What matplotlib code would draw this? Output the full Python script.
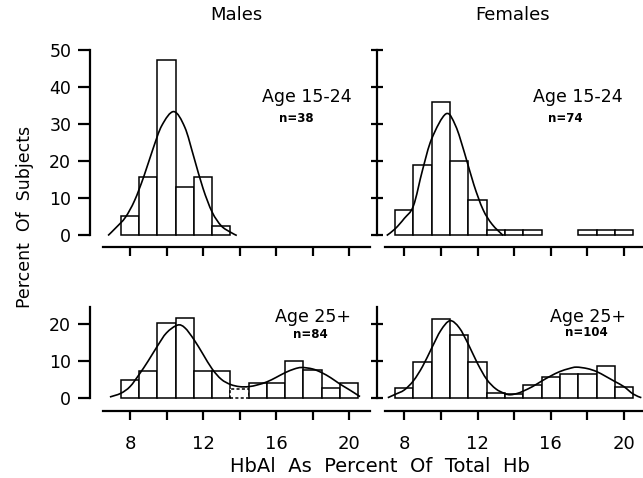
import numpy as np
import matplotlib
matplotlib.use("Agg")
import matplotlib.pyplot as plt
from matplotlib.path import Path
from matplotlib.patches import PathPatch

plt.rcParams['font.family'] = ['DejaVu Sans']

# ---------------- data ----------------
panel_titles = ["Males", "Females"]
age_labels = ["Age 15-24", "Age 15-24", "Age 25+", "Age 25+"]
n_labels = ["n=38", "n=74", "n=84", "n=104"]

# Males 15-24
m1_bins = [8, 9, 10, 11, 12, 13]
m1_pct = [5.3, 15.8, 47.4, 13.2, 15.8, 2.6]
m1_curve_x = [6.8, 7.25, 7.75, 8.25, 8.75, 9.25, 9.75, 10.4, 11.0, 11.5, 12.0, 12.5, 13.0, 13.5, 13.85]
m1_curve_y = [0.0, 2.2, 4.9, 9.4, 15.8, 23.2, 29.7, 33.4, 29.2, 21.1, 12.7, 6.3, 2.6, 0.9, 0.0]

# Females 15-24
f1_bins = [8, 9, 10, 11, 12, 13, 14, 15, 18, 19, 20]
f1_pct = [6.8, 18.9, 36.0, 20.0, 9.5, 1.4, 1.4, 1.4, 1.4, 1.4, 1.4]
f1_curve_x = [7.04, 7.5, 8.0, 8.5, 9.0, 9.5, 10.28, 10.8, 11.3, 11.8, 12.3, 12.8, 13.4]
f1_curve_y = [0.0, 1.8, 4.6, 8.0, 17.7, 26.1, 32.8, 29.6, 22.1, 13.7, 7.0, 3.0, 0.0]

# Males 25+
m2_bins = [8, 9, 10, 11, 12, 13, 14, 15, 16, 17, 18, 19, 20]
m2_pct = [4.8, 7.2, 20.4, 21.5, 7.3, 7.3, 2.4, 4.1, 4.1, 10.0, 7.5, 2.5, 3.9]
m2_curve_x = [6.9, 7.5, 8.0, 8.5, 9.0, 9.5, 10.0, 10.6, 11.0, 11.5, 12.0, 12.5, 13.0, 13.5,
              14.0, 14.5, 15.0, 15.5, 16.0, 16.5, 17.0, 17.4, 18.0, 18.5, 19.0, 19.5, 20.0, 20.6]
m2_curve_y = [0.2, 1.2, 3.0, 6.3, 10.0, 14.0, 17.6, 19.7, 19.0, 15.8, 11.8, 7.8, 5.0, 3.6,
              3.0, 3.0, 3.5, 4.3, 5.5, 6.8, 7.8, 8.2, 7.8, 6.8, 5.4, 3.7, 2.2, 0.3]

# Females 25+
f2_bins = [8, 9, 10, 11, 12, 13, 14, 15, 16, 17, 18, 19, 20]
f2_pct = [2.7, 9.7, 21.4, 17.1, 9.6, 1.4, 0.9, 3.4, 5.7, 6.3, 6.3, 8.6, 2.9]
f2_curve_x = [7.1, 7.5, 8.0, 8.5, 9.0, 9.5, 10.0, 10.5, 11.0, 11.5, 12.0, 12.5, 13.0, 13.5,
              13.8, 14.2, 14.5, 15.0, 15.5, 16.0, 16.5, 17.0, 17.4, 18.0, 18.5, 19.0, 19.5, 20.0, 20.5, 20.95]
f2_curve_y = [0.0, 0.9, 2.1, 4.6, 8.5, 13.5, 18.3, 20.9, 19.0, 14.5, 9.3, 5.0, 2.4, 1.1,
              0.8, 1.2, 1.8, 3.0, 4.5, 5.9, 7.1, 7.9, 8.3, 7.9, 7.1, 5.8, 4.4, 3.0, 1.0, 0.0]

x_ticks = [8, 10, 12, 14, 16, 18, 20]
x_ticklabels = ["8", "", "12", "", "16", "", "20"]
top_yticks = [0, 10, 20, 30, 40, 50]
bot_yticks = [0, 10, 20]

# ---------------- figure ----------------
W, H = 643, 478
fig = plt.figure(figsize=(W / 100, H / 100), dpi=100)


def px_axes(x0, x1, ytop, ybot):
    return fig.add_axes([x0 / W, (H - ybot) / H, (x1 - x0) / W, (ybot - ytop) / H])


def smooth_path(xs, ys):
    pts = np.column_stack([xs, ys])
    n = len(pts)
    verts = [pts[0]]
    codes = [Path.MOVETO]
    for i in range(n - 1):
        p0 = pts[i - 1] if i > 0 else pts[i]
        p1 = pts[i]
        p2 = pts[i + 1]
        p3 = pts[i + 2] if i + 2 < n else pts[i + 1]
        verts += [p1 + (p2 - p0) / 6.0, p2 - (p3 - p1) / 6.0, p2]
        codes += [Path.CURVE4] * 3
    return Path(verts, codes)


LW_SP = 1.6
LW_BAR = 1.1


def draw_panel(ax, bins, pct, cx, cy, xlim, ylim, yticks, left, bottom_labels,
               xspine_bounds, yspine_top, xoffset, dashed_bin=None):
    bars = ax.bar(bins, pct, width=1.0, facecolor="white", edgecolor="black",
                  linewidth=LW_BAR, clip_on=False, zorder=2)
    if dashed_bin is not None:
        for b, r in zip(bins, bars):
            if b == dashed_bin:
                r.set_linestyle((0, (2.0, 1.5)))
    patch = PathPatch(smooth_path(cx, cy), facecolor="none", edgecolor="black",
                      linewidth=1.2, clip_on=False, zorder=3)
    ax.add_patch(patch)
    ax.set_xlim(*xlim)
    ax.set_ylim(*ylim)
    for s in ["top", "right"]:
        ax.spines[s].set_visible(False)
    ax.spines["left"].set_linewidth(LW_SP)
    ax.spines["bottom"].set_linewidth(LW_SP)
    ax.spines["left"].set_bounds(0, yspine_top)
    ax.spines["bottom"].set_bounds(*xspine_bounds)
    ax.spines["bottom"].set_position(("outward", xoffset))
    ax.set_yticks(yticks)
    ax.set_xticks(x_ticks)
    if left:
        ax.tick_params(axis="y", direction="out", length=8.5, width=LW_SP, pad=5,
                       labelsize=12.5)
    else:
        ax.tick_params(axis="y", direction="inout", length=8, width=LW_SP,
                       labelleft=False)
    ax.tick_params(axis="x", direction="out", length=6.5, width=LW_SP, pad=11,
                   labelsize=13, labelbottom=bottom_labels)
    if bottom_labels:
        ax.set_xticklabels(x_ticklabels)
    ax.patch.set_visible(False)


# pixel geometry
xl_left = (5.81, 21.2)
xl_right = (6.51, 21.04)

ax1 = px_axes(90, 371, 50, 235.5)
draw_panel(ax1, m1_bins, m1_pct, m1_curve_x, m1_curve_y, xl_left, (0, 50), top_yticks,
           True, False, (6.5, 21.15), 50, 8)
ax2 = px_axes(377, 643, 50, 235.5)
draw_panel(ax2, f1_bins, f1_pct, f1_curve_x, f1_curve_y, xl_right, (0, 50), top_yticks,
           False, False, (6.95, 21.04), 50, 8)
ax3 = px_axes(90, 371, 305.6, 397.7)
draw_panel(ax3, m2_bins, m2_pct, m2_curve_x, m2_curve_y, xl_left, (0, 25), bot_yticks,
           True, True, (6.5, 21.15), 24.7, 9.5, dashed_bin=14)
ax4 = px_axes(377, 643, 305.6, 397.7)
draw_panel(ax4, f2_bins, f2_pct, f2_curve_x, f2_curve_y, xl_right, (0, 25), bot_yticks,
           False, True, (6.95, 21.04), 24.7, 9.5)

# annotations
def ftext(x, y, s, **kw):
    fig.text(x / W, 1 - y / H, s, ha="center", va="center", **kw)


ftext(236, 15, panel_titles[0], fontsize=13)
ftext(513, 15, panel_titles[1], fontsize=13)
ftext(307, 97, age_labels[0], fontsize=12.5)
ftext(296, 118, n_labels[0], fontsize=8.5, fontweight="bold")
ftext(578, 97, age_labels[1], fontsize=12.5)
ftext(565, 118, n_labels[1], fontsize=8.5, fontweight="bold")
ftext(313, 317.5, age_labels[2], fontsize=12.5)
ftext(310, 334, n_labels[2], fontsize=8.5, fontweight="bold")
ftext(588, 316.5, age_labels[3], fontsize=12.5)
ftext(586, 333, n_labels[3], fontsize=8.5, fontweight="bold")

ftext(25, 217, "Percent  Of  Subjects", fontsize=12.5, rotation=90)
ftext(380, 467, "HbAl  As  Percent  Of  Total  Hb", fontsize=14)

fig.savefig("out.png", dpi=100, facecolor="white")
